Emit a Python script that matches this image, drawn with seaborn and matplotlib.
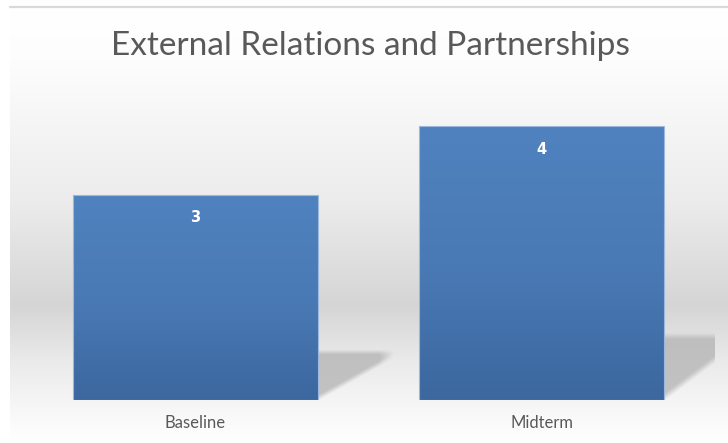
import numpy as np
import pandas as pd
import matplotlib
matplotlib.use("Agg")
import matplotlib.pyplot as plt
from matplotlib.colors import LinearSegmentedColormap
import seaborn as sns

categories = ["Baseline", "Midterm"]
values = [3, 4]
title = "External Relations and Partnerships"

sns.set_theme(style="white")
plt.rcParams["font.family"] = ["Lato", "DejaVu Sans"]

W, H = 728, 443
fig = plt.figure(figsize=(W / 100, H / 100), dpi=100)
fig.patch.set_facecolor("white")

# chart-area background gradient
bg = fig.add_axes([10 / W, 0, (W - 10) / W, (H - 8) / H], zorder=-5)
ys = np.arange(8, H)
stops_y = [8, 60, 200, 305, 360, 420, 443]
stops_v = [255, 253, 236, 213, 234, 250, 255]
prof = np.interp(ys, stops_y, stops_v) / 255.0
img = np.repeat(prof[:, None], 4, axis=1)
bg.imshow(np.dstack([img, img, img]), aspect="auto", extent=[0, 1, 0, 1])
bg.set_axis_off()

# top border line
fig.add_artist(plt.Line2D([10 / W, 1], [1 - 7 / H, 1 - 7 / H], color="#d9d9d9", lw=1.6))

ax = fig.add_axes([22 / W, 43 / H, 693 / W, 308 / H])
ax.patch.set_alpha(0)
df = pd.DataFrame({"category": categories, "value": values})
sns.barplot(data=df, x="category", y="value", ax=ax, width=0.707, color="#4f81bd",
            saturation=1, zorder=2)

bar_cmap = LinearSegmentedColormap.from_list("bar", ["#3c679f", "#4a7ab5", "#4f82bf"])
shadow_rgb = np.array([0.70, 0.70, 0.70])
for patch, v in zip(ax.patches, values):
    x0 = patch.get_x()
    w = patch.get_width()
    h = patch.get_height()
    # gradient fill
    grad = np.linspace(0, 1, 200)[:, None]
    im = ax.imshow(grad, extent=[x0, x0 + w, 0, h], origin="lower", aspect="auto",
                   cmap=bar_cmap, zorder=2)
    im.set_clip_path(patch)
    patch.set_facecolor("none")
    patch.set_edgecolor("#9cb9dd")
    patch.set_linewidth(0.8)
    patch.set_zorder(3)
    # perspective shadow
    R = x0 + w
    s = 0.233 * h
    sw = 0.21
    nu, nv = 120, 120
    u = np.linspace(0, 1.15, nu)[None, :]
    vv = np.linspace(0, 1.12, nv)[:, None]
    a = np.clip((vv - 0.85 * u + 0.02) / 0.12, 0, 1)
    a = a * np.clip((1.0 - vv) / 0.10 + 0.5, 0, 1)
    a = a * np.clip((1.05 - u) / 0.2, 0, 1)
    a = a * 0.75
    rgba = np.zeros((nv, nu, 4))
    rgba[..., :3] = shadow_rgb
    rgba[..., 3] = a
    ax.imshow(rgba, extent=[R, R + sw * 1.15, 0, s * 1.12], origin="lower",
              aspect="auto", zorder=1)
    ax.text(x0 + w / 2, h - 23 / 68.5, str(v), ha="center", va="center",
            color="white", fontweight="bold", fontsize=10.5, zorder=4,
            family="DejaVu Sans")

ax.set_xlim(-0.5, 1.5)
ax.set_ylim(0, 4.5)
ax.set_yticks([])
ax.set_xlabel("")
ax.set_ylabel("")
ax.tick_params(axis="x", length=0, pad=11, labelsize=12, labelcolor="#595959")
for sp in ax.spines.values():
    sp.set_visible(False)

fig.text(370 / W, 1 - 46 / H, title, ha="center", va="center", fontsize=24, color="#595959")

fig.savefig("out.png", dpi=100)
